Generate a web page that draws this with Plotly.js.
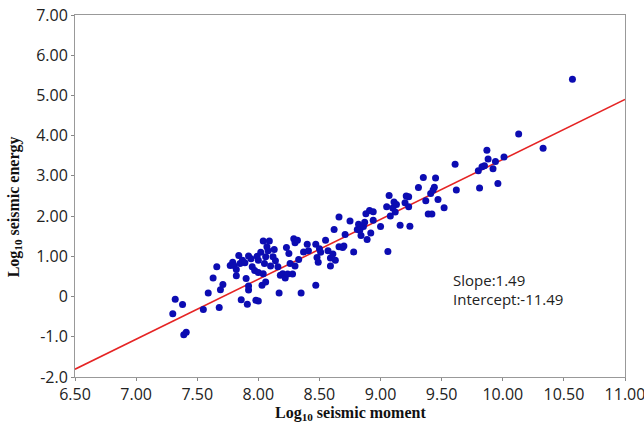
<!DOCTYPE html>
<html>
<head>
<meta charset="utf-8">
<script src="https://cdn.plot.ly/plotly-3.0.1.min.js"></script>
<style>
  html, body { margin: 0; padding: 0; background: #fff; }
  #chart { width: 644px; height: 423px; }
</style>
</head>
<body>
<div id="chart"></div>
<script>
// Log10 seismic moment of each event
const moment = [
  7.30, 7.32, 7.38, 7.39, 7.41, 7.55, 7.59, 7.63, 7.66, 7.68,
  7.69, 7.71, 7.77, 7.79, 7.80, 7.82, 7.82, 7.84, 7.85, 7.86,
  7.87, 7.89, 7.90, 7.91, 7.92, 7.92, 7.92, 7.94, 7.95, 7.97,
  7.98, 8.00, 7.99, 8.00, 8.00, 8.02, 8.03, 8.04, 8.04, 8.05,
  8.06, 8.06, 8.07, 8.08, 8.09, 8.10, 8.12, 8.13, 8.14, 8.16,
  8.17, 8.18, 8.20, 8.22, 8.23, 8.24, 8.25, 8.26, 8.28, 8.29,
  8.30, 8.30, 8.32, 8.33, 8.35, 8.37, 8.40, 8.41, 8.47, 8.47,
  8.48, 8.49, 8.50, 8.51, 8.55, 8.57, 8.59, 8.59, 8.61, 8.62,
  8.63, 8.66, 8.66, 8.69, 8.70, 8.71, 8.75, 8.78, 8.81, 8.82,
  8.83, 8.84, 8.86, 8.87, 8.88, 8.89, 8.91, 8.92, 8.94, 8.94,
  9.00, 9.05, 9.06, 9.07, 9.08, 9.10, 9.11, 9.12, 9.13, 9.16,
  9.20, 9.21, 9.23, 9.23, 9.24, 9.31, 9.35, 9.37, 9.39, 9.41,
  9.42, 9.43, 9.45, 9.44, 9.47, 9.52, 9.61, 9.62, 9.80, 9.81,
  9.83, 9.85, 9.87, 9.88, 9.92, 9.94, 9.96, 10.01, 10.13, 10.33,
  10.57
];

// Log10 seismic energy of each event
const energy = [
  -0.43, -0.07, -0.20, -0.95, -0.89, -0.32, 0.09, 0.46, 0.74, -0.27,
  0.17, 0.30, 0.77, 0.85, 0.77, 0.67, 0.52, 1.02, 0.82, -0.08,
  0.90, 0.84, 0.45, -0.19, 1.01, 0.26, 0.16, 0.94, 0.74, 0.65,
  -0.09, -0.11, 1.00, 0.90, 0.60, 1.10, 0.28, 0.57, 1.38, 0.82,
  0.36, 0.99, 1.24, 1.14, 1.38, 0.76, 0.99, 1.17, 0.89, 0.74,
  0.09, 0.53, 0.57, 0.46, 1.22, 0.56, 1.07, 0.82, 0.56, 1.44,
  0.76, 1.34, 1.40, 0.92, 0.09, 1.11, 1.30, 1.14, 0.28, 1.30,
  0.97, 0.85, 1.19, 1.10, 1.40, 1.14, 0.96, 0.76, 1.06, 1.67,
  0.90, 1.24, 1.98, 1.22, 1.26, 1.54, 1.88, 1.11, 1.67, 1.80,
  1.65, 1.52, 1.74, 1.85, 2.06, 1.42, 2.14, 1.58, 1.90, 2.11,
  1.74, 2.23, 1.12, 2.51, 2.00, 2.20, 2.35, 2.10, 2.29, 1.77,
  2.33, 2.50, 2.23, 2.48, 1.75, 2.71, 2.96, 2.38, 2.05, 2.56,
  2.05, 2.65, 2.95, 2.72, 2.41, 2.21, 3.29, 2.65, 3.13, 2.70,
  3.23, 3.25, 3.64, 3.42, 3.18, 3.36, 2.81, 3.47, 4.04, 3.69,
  5.40
];

// Fitted regression
const slope = 1.49;
const intercept = -11.49;
const fitRange = [6.5, 11.0];

// Axis tick labels
const xTickVals = [6.5, 7, 7.5, 8, 8.5, 9, 9.5, 10, 10.5, 11];
const xTickText = ['6.50', '7.00', '7.50', '8.00', '8.50', '9.00', '9.50', '10.00', '10.50', '11.00'];
const yTickVals = [-2, -1, 0, 1, 2, 3, 4, 5, 6, 7];
const yTickText = ['-2.0', '-1.0', '0', '1.00', '2.00', '3.00', '4.00', '5.00', '6.00', '7.00'];

const fitY = fitRange.map(x => slope * x + intercept);

const sans = '"Open Sans", Lato, sans-serif';
const tickFont = { family: sans, size: 16, color: '#222' };
const titleFont = { family: '"Liberation Serif", "Times New Roman", serif', size: 16, color: '#111' };
const noteFont = { family: sans, size: 15, color: '#222' };

const traces = [
  {
    x: fitRange,
    y: fitY,
    mode: 'lines',
    type: 'scatter',
    line: { color: '#e52424', width: 1.6 },
    hoverinfo: 'skip',
    showlegend: false
  },
  {
    x: moment,
    y: energy,
    mode: 'markers',
    type: 'scatter',
    marker: { color: '#0c0cb2', size: 7, line: { width: 0 } },
    showlegend: false
  }
];

const axisCommon = {
  tickfont: tickFont,
  ticks: 'outside',
  ticklen: 3,
  tickcolor: '#888',
  showgrid: false,
  zeroline: false,
  showline: true,
  linecolor: '#999',
  linewidth: 1,
  mirror: true,
  ticklabeloverflow: 'allow'
};

const layout = {
  width: 644,
  height: 423,
  margin: { l: 75, r: 19, t: 15, b: 46 },
  paper_bgcolor: '#ffffff',
  plot_bgcolor: '#ffffff',
  showlegend: false,
  xaxis: Object.assign({}, axisCommon, {
    range: [6.5, 11.0],
    tickvals: xTickVals,
    ticktext: xTickText
  }),
  yaxis: Object.assign({}, axisCommon, {
    range: [-2.0, 7.0],
    tickvals: yTickVals,
    ticktext: yTickText
  }),
  annotations: [
    {
      x: 0.5, y: -0.069, xref: 'paper', yref: 'paper',
      xanchor: 'center', yanchor: 'top',
      text: '<b>Log<sub>10</sub> seismic moment</b>',
      showarrow: false,
      font: titleFont
    },
    {
      x: -0.11, y: 0.47, xref: 'paper', yref: 'paper',
      xanchor: 'center', yanchor: 'middle',
      textangle: -90,
      text: '<b>Log<sub>10</sub> seismic energy</b>',
      showarrow: false,
      font: titleFont
    },
    {
      x: 9.58, y: 0.42, xref: 'x', yref: 'y',
      xanchor: 'left', yanchor: 'middle',
      text: 'Slope:' + slope.toFixed(2),
      showarrow: false,
      font: noteFont
    },
    {
      x: 9.58, y: -0.07, xref: 'x', yref: 'y',
      xanchor: 'left', yanchor: 'middle',
      text: 'Intercept:' + intercept.toFixed(2),
      showarrow: false,
      font: noteFont
    }
  ]
};

Plotly.newPlot('chart', traces, layout, { displayModeBar: false, staticPlot: true });
</script>
</body>
</html>
